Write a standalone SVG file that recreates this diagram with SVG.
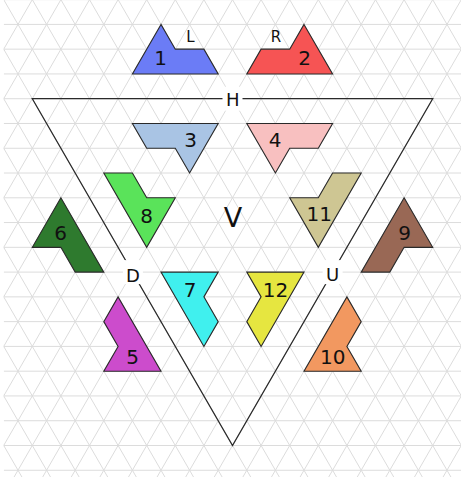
<svg xmlns="http://www.w3.org/2000/svg" width="461" height="477" viewBox="0 0 461 477">
<style>
.grid{fill:none;stroke:#dcdcdc;stroke-width:1}
.piece{stroke:#2a2a2a;stroke-width:1.1;stroke-linejoin:miter}
.num{font-family:"DejaVu Sans",sans-serif;font-size:20px;fill:#111;text-anchor:middle}
.small{font-family:"DejaVu Sans",sans-serif;font-size:15px;fill:#111;text-anchor:middle}
.edge{font-family:"DejaVu Sans",sans-serif;font-size:18px;fill:#111;text-anchor:middle}
.big{font-family:"DejaVu Sans",sans-serif;font-size:27px;fill:#111;text-anchor:middle}
.frame{fill:none;stroke:#2a2a2a;stroke-width:1.3}
</style>
<defs>
<clipPath id="gclip"><rect x="3.7" y="-0.4" width="460" height="480"/></clipPath>
</defs>
<rect width="461" height="477" fill="#fff"/>
<g id="grid" class="grid" clip-path="url(#gclip)">
<path d="M3.7 -0.37H461M3.7 24.4H461M3.7 49.17H461M3.7 73.94H461M3.7 98.71H461M3.7 123.48H461M3.7 148.25H461M3.7 173.02H461M3.7 197.79H461M3.7 222.56H461M3.7 247.33H461M3.7 272.1H461M3.7 296.87H461M3.7 321.64H461M3.7 346.41H461M3.7 371.18H461M3.7 395.95H461M3.7 420.72H461M3.7 445.49H461M3.7 470.26H461"/>
<path d="M32.09 0l-275.4 477M60.69 0l-275.4 477M89.29 0l-275.4 477M117.89 0l-275.4 477M146.49 0l-275.4 477M175.09 0l-275.4 477M203.69 0l-275.4 477M232.29 0l-275.4 477M260.89 0l-275.4 477M289.49 0l-275.4 477M318.09 0l-275.4 477M346.69 0l-275.4 477M375.29 0l-275.4 477M403.89 0l-275.4 477M432.49 0l-275.4 477M461.09 0l-275.4 477M489.69 0l-275.4 477M518.29 0l-275.4 477M546.89 0l-275.4 477M575.49 0l-275.4 477M604.09 0l-275.4 477M632.69 0l-275.4 477M661.29 0l-275.4 477M689.89 0l-275.4 477M718.49 0l-275.4 477"/>
<path d="M-253.49 0l275.4 477M-224.89 0l275.4 477M-196.29 0l275.4 477M-167.69 0l275.4 477M-139.09 0l275.4 477M-110.49 0l275.4 477M-81.89 0l275.4 477M-53.29 0l275.4 477M-24.69 0l275.4 477M3.91 0l275.4 477M32.51 0l275.4 477M61.11 0l275.4 477M89.71 0l275.4 477M118.31 0l275.4 477M146.91 0l275.4 477M175.51 0l275.4 477M204.11 0l275.4 477M232.71 0l275.4 477M261.31 0l275.4 477M289.91 0l275.4 477M318.51 0l275.4 477M347.11 0l275.4 477M375.71 0l275.4 477M404.31 0l275.4 477M432.91 0l275.4 477"/>
</g>
<g id="frame">
<polygon class="frame" points="32.3,98.71 432.7,98.71 232.5,445.49"/>
<rect x="222.5" y="86.7" width="20" height="24" fill="#fff"/>
<rect x="122.9" y="260.1" width="20" height="24" fill="#fff"/>
<rect x="322.6" y="260.1" width="20" height="24" fill="#fff"/>
<text class="edge" x="232.7" y="106">H</text>
<text class="edge" x="133" y="281.5">D</text>
<text class="edge" x="332.5" y="281">U</text>
<text class="big" x="233" y="226.5">V</text>
</g>
<g id="p1"><polygon class="piece" fill="#6b7cf6" points="161,24.4 132.4,73.94 218.2,73.94 203.9,49.17 175.3,49.17"/><text class="num" x="160.5" y="65">1</text><text class="small" x="190.5" y="42.3">L</text></g>
<g id="p2"><polygon class="piece" fill="#f65454" points="304,24.4 332.6,73.94 246.8,73.94 261.1,49.17 289.7,49.17"/><text class="num" x="304.5" y="65">2</text><text class="small" x="276" y="42.3">R</text></g>
<g id="p3"><polygon class="piece" fill="#a9c4e4" points="132.4,123.48 218.2,123.48 189.6,173.02 175.3,148.25 146.7,148.25"/><text class="num" x="190.5" y="147">3</text></g>
<g id="p4"><polygon class="piece" fill="#f8c0c0" points="246.8,123.48 332.6,123.48 318.3,148.25 289.7,148.25 275.4,173.02"/><text class="num" x="275" y="147">4</text></g>
<g id="p5"><polygon class="piece" fill="#cc4ccc" points="118.1,296.87 103.8,321.64 118.1,346.41 103.8,371.18 161,371.18"/><text class="num" x="132.5" y="364">5</text></g>
<g id="p6"><polygon class="piece" fill="#2e7a2e" points="60.9,197.79 32.3,247.33 60.9,247.33 75.2,272.1 103.8,272.1"/><text class="num" x="60.5" y="240">6</text></g>
<g id="p7"><polygon class="piece" fill="#40f0ee" points="161,272.1 218.2,272.1 203.9,296.87 218.2,321.64 203.9,346.41"/><text class="num" x="190" y="296.5">7</text></g>
<g id="p8"><polygon class="piece" fill="#5ae35a" points="103.8,173.02 132.4,173.02 146.7,197.79 175.3,197.79 146.7,247.33"/><text class="num" x="146.7" y="222.5">8</text></g>
<g id="p9"><polygon class="piece" fill="#996855" points="404.1,197.79 432.7,247.33 404.1,247.33 389.8,272.1 361.2,272.1"/><text class="num" x="404.7" y="240">9</text></g>
<g id="p10"><polygon class="piece" fill="#f29860" points="346.9,296.87 361.2,321.64 346.9,346.41 361.2,371.18 304,371.18"/><text class="num" x="332.8" y="363.5">10</text></g>
<g id="p11"><polygon class="piece" fill="#cec693" points="332.6,173.02 361.2,173.02 318.3,247.33 289.7,197.79 318.3,197.79"/><text class="num" x="319.2" y="221">11</text></g>
<g id="p12"><polygon class="piece" fill="#e6e640" points="246.8,272.1 304,272.1 261.1,346.41 246.8,321.64 261.1,296.87"/><text class="num" x="275.5" y="296.5">12</text></g>
</svg>
